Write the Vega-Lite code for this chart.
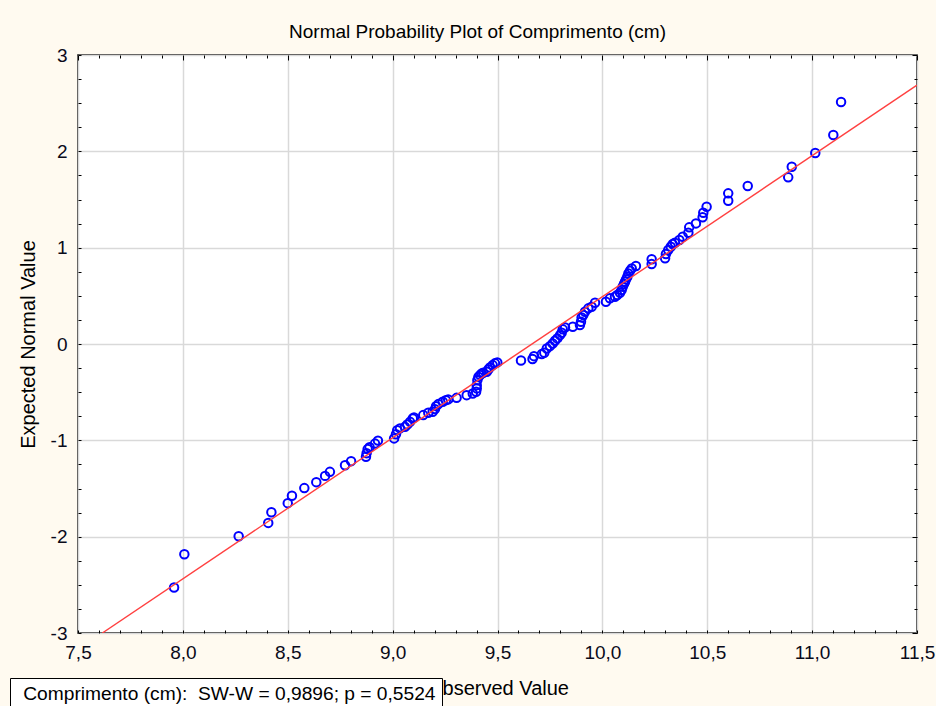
{
  "$schema": "https://vega.github.io/schema/vega-lite/v6.json",
  "width": 839,
  "height": 578,
  "autosize": {"type": "none"},
  "padding": {"left": 78, "top": 55, "right": 19, "bottom": 73},
  "background": "#fffaf0",
  "title": {
    "text": "Normal Probability Plot of Comprimento (cm)",
    "frame": "group",
    "anchor": "middle",
    "dx": -20,
    "dy": 28,
    "offset": 17,
    "baseline": "alphabetic",
    "font": "Liberation Sans Narrow, Arial Narrow, Liberation Sans",
    "fontSize": 19,
    "fontWeight": "normal",
    "color": "#000000"
  },
  "config": {
    "view": {"fill": "white", "stroke": "black", "strokeWidth": 1.5},
    "axis": {
      "domain": false,
      "labelFont": "Liberation Sans Narrow, Arial Narrow, Liberation Sans",
      "titleFont": "Liberation Sans Narrow, Arial Narrow, Liberation Sans",
      "labelFontSize": 19,
      "titleFontSize": 20,
      "titleFontWeight": "normal",
      "labelColor": "#0a0a1a",
      "titleColor": "#000000",
      "tickColor": "#000000",
      "tickWidth": 1,
      "gridColor": "#d9d9d9",
      "gridWidth": 1.5
    }
  },
  "data": {
    "values": [
      {"observed": 7.958, "expected": -2.527},
      {"observed": 8.007, "expected": -2.182},
      {"observed": 8.266, "expected": -1.995},
      {"observed": 8.407, "expected": -1.857},
      {"observed": 8.422, "expected": -1.746},
      {"observed": 8.500, "expected": -1.652},
      {"observed": 8.520, "expected": -1.576},
      {"observed": 8.579, "expected": -1.496},
      {"observed": 8.636, "expected": -1.434},
      {"observed": 8.678, "expected": -1.369},
      {"observed": 8.701, "expected": -1.327},
      {"observed": 8.773, "expected": -1.258},
      {"observed": 8.802, "expected": -1.216},
      {"observed": 8.873, "expected": -1.171},
      {"observed": 8.876, "expected": -1.133},
      {"observed": 8.881, "expected": -1.091},
      {"observed": 8.890, "expected": -1.071},
      {"observed": 8.916, "expected": -1.034},
      {"observed": 8.930, "expected": -1.003},
      {"observed": 9.007, "expected": -0.980},
      {"observed": 9.016, "expected": -0.936},
      {"observed": 9.022, "expected": -0.894},
      {"observed": 9.035, "expected": -0.876},
      {"observed": 9.059, "expected": -0.860},
      {"observed": 9.070, "expected": -0.835},
      {"observed": 9.083, "expected": -0.808},
      {"observed": 9.096, "expected": -0.773},
      {"observed": 9.102, "expected": -0.762},
      {"observed": 9.146, "expected": -0.738},
      {"observed": 9.170, "expected": -0.714},
      {"observed": 9.191, "expected": -0.704},
      {"observed": 9.202, "expected": -0.676},
      {"observed": 9.207, "expected": -0.645},
      {"observed": 9.218, "expected": -0.624},
      {"observed": 9.239, "expected": -0.600},
      {"observed": 9.254, "expected": -0.583},
      {"observed": 9.265, "expected": -0.575},
      {"observed": 9.305, "expected": -0.559},
      {"observed": 9.353, "expected": -0.531},
      {"observed": 9.382, "expected": -0.513},
      {"observed": 9.398, "expected": -0.496},
      {"observed": 9.401, "expected": -0.461},
      {"observed": 9.401, "expected": -0.427},
      {"observed": 9.404, "expected": -0.375},
      {"observed": 9.409, "expected": -0.341},
      {"observed": 9.417, "expected": -0.323},
      {"observed": 9.425, "expected": -0.305},
      {"observed": 9.432, "expected": -0.299},
      {"observed": 9.449, "expected": -0.289},
      {"observed": 9.456, "expected": -0.264},
      {"observed": 9.464, "expected": -0.243},
      {"observed": 9.477, "expected": -0.219},
      {"observed": 9.488, "expected": -0.201},
      {"observed": 9.499, "expected": -0.191},
      {"observed": 9.612, "expected": -0.172},
      {"observed": 9.667, "expected": -0.155},
      {"observed": 9.674, "expected": -0.126},
      {"observed": 9.711, "expected": -0.105},
      {"observed": 9.723, "expected": -0.091},
      {"observed": 9.735, "expected": -0.046},
      {"observed": 9.750, "expected": -0.022},
      {"observed": 9.763, "expected": 0.006},
      {"observed": 9.774, "expected": 0.033},
      {"observed": 9.785, "expected": 0.058},
      {"observed": 9.798, "expected": 0.092},
      {"observed": 9.806, "expected": 0.116},
      {"observed": 9.811, "expected": 0.152},
      {"observed": 9.822, "expected": 0.172},
      {"observed": 9.859, "expected": 0.179},
      {"observed": 9.893, "expected": 0.196},
      {"observed": 9.898, "expected": 0.231},
      {"observed": 9.901, "expected": 0.276},
      {"observed": 9.909, "expected": 0.300},
      {"observed": 9.917, "expected": 0.334},
      {"observed": 9.933, "expected": 0.370},
      {"observed": 9.949, "expected": 0.386},
      {"observed": 9.965, "expected": 0.428},
      {"observed": 10.017, "expected": 0.438},
      {"observed": 10.036, "expected": 0.474},
      {"observed": 10.060, "expected": 0.490},
      {"observed": 10.071, "expected": 0.508},
      {"observed": 10.084, "expected": 0.532},
      {"observed": 10.092, "expected": 0.560},
      {"observed": 10.097, "expected": 0.594},
      {"observed": 10.103, "expected": 0.622},
      {"observed": 10.108, "expected": 0.646},
      {"observed": 10.113, "expected": 0.671},
      {"observed": 10.119, "expected": 0.698},
      {"observed": 10.124, "expected": 0.733},
      {"observed": 10.132, "expected": 0.760},
      {"observed": 10.140, "expected": 0.785},
      {"observed": 10.160, "expected": 0.809},
      {"observed": 10.235, "expected": 0.830},
      {"observed": 10.235, "expected": 0.879},
      {"observed": 10.299, "expected": 0.889},
      {"observed": 10.303, "expected": 0.934},
      {"observed": 10.314, "expected": 0.975},
      {"observed": 10.326, "expected": 1.009},
      {"observed": 10.335, "expected": 1.037},
      {"observed": 10.346, "expected": 1.051},
      {"observed": 10.367, "expected": 1.079},
      {"observed": 10.383, "expected": 1.113},
      {"observed": 10.410, "expected": 1.155},
      {"observed": 10.414, "expected": 1.211},
      {"observed": 10.446, "expected": 1.252},
      {"observed": 10.478, "expected": 1.315},
      {"observed": 10.481, "expected": 1.362},
      {"observed": 10.497, "expected": 1.425},
      {"observed": 10.600, "expected": 1.487},
      {"observed": 10.600, "expected": 1.564},
      {"observed": 10.693, "expected": 1.640},
      {"observed": 10.886, "expected": 1.730},
      {"observed": 10.903, "expected": 1.840},
      {"observed": 11.015, "expected": 1.982},
      {"observed": 11.101, "expected": 2.169},
      {"observed": 11.138, "expected": 2.512}
    ]
  },
  "layer": [
    {
      "mark": {"type": "point", "shape": "circle", "filled": false, "strokeWidth": 2, "size": 72, "opacity": 1},
      "encoding": {
        "x": {
          "field": "observed",
          "type": "quantitative",
          "scale": {"domain": [7.5, 11.5], "nice": false, "zero": false},
          "axis": {
            "orient": "bottom",
            "title": "Observed Value",
            "titlePadding": 16,
            "values": [7.5, 7.6, 7.7, 7.8, 7.9, 8.0, 8.1, 8.2, 8.3, 8.4, 8.5, 8.6, 8.7, 8.8, 8.9, 9.0, 9.1, 9.2, 9.3, 9.4, 9.5, 9.6, 9.7, 9.8, 9.9, 10.0, 10.1, 10.2, 10.3, 10.4, 10.5, 10.6, 10.7, 10.8, 10.9, 11.0, 11.1, 11.2, 11.3, 11.4, 11.5],
            "labelExpr": "abs(datum.value * 2 - round(datum.value * 2)) < 0.01 ? replace(format(datum.value, '.1f'), '.', ',') : ''",
            "labelFlush": false,
            "labelOverlap": false,
            "labelPadding": 13,
            "tickSize": -3,
            "grid": true,
            "gridOpacity": {"condition": {"test": "abs(datum.value * 2 - round(datum.value * 2)) < 0.01", "value": 1}, "value": 0}
          }
        },
        "y": {
          "field": "expected",
          "type": "quantitative",
          "scale": {"domain": [-3, 3], "nice": false, "zero": false},
          "axis": {
            "orient": "left",
            "title": "Expected Normal Value",
            "titlePadding": 12,
            "values": [-3, -2.75, -2.5, -2.25, -2, -1.75, -1.5, -1.25, -1, -0.75, -0.5, -0.25, 0, 0.25, 0.5, 0.75, 1, 1.25, 1.5, 1.75, 2, 2.25, 2.5, 2.75, 3],
            "labelExpr": "abs(datum.value - round(datum.value)) < 0.01 ? (datum.value < -0.01 ? '-' : '') + abs(round(datum.value)) : ''",
            "labelFlush": false,
            "labelOverlap": false,
            "labelPadding": 14,
            "tickSize": -3,
            "grid": true,
            "gridOpacity": {"condition": {"test": "abs(datum.value - round(datum.value)) < 0.01", "value": 1}, "value": 0}
          }
        },
        "color": {
          "datum": "Comprimento (cm):\u00a0 SW-W = 0,9896; p = 0,5524",
          "type": "nominal",
          "scale": {"range": ["#0000ff"]},
          "legend": {
            "title": null,
            "orient": "none",
            "legendX": -68,
            "legendY": 623,
            "fillColor": "white",
            "strokeColor": "black",
            "padding": 6,
            "symbolSize": 0,
            "symbolOpacity": 0,
            "symbolStrokeWidth": 0,
            "labelOffset": -12,
            "labelLimit": 0,
            "labelFont": "Liberation Sans Narrow, Arial Narrow, Liberation Sans",
            "labelFontSize": 19.2,
            "labelColor": "#000000"
          }
        }
      }
    },
    {
      "data": {
        "values": [
          {"observed": 7.616, "expected": -3.0},
          {"observed": 11.5, "expected": 2.687}
        ]
      },
      "mark": {"type": "line", "color": "#ff4040", "strokeWidth": 1.4, "clip": true},
      "encoding": {
        "x": {
          "field": "observed",
          "type": "quantitative",
          "scale": {"domain": [7.5, 11.5], "nice": false, "zero": false},
          "axis": {
            "orient": "top",
            "title": null,
            "labels": false,
            "grid": false,
            "values": [7.5, 7.6, 7.7, 7.8, 7.9, 8.0, 8.1, 8.2, 8.3, 8.4, 8.5, 8.6, 8.7, 8.8, 8.9, 9.0, 9.1, 9.2, 9.3, 9.4, 9.5, 9.6, 9.7, 9.8, 9.9, 10.0, 10.1, 10.2, 10.3, 10.4, 10.5, 10.6, 10.7, 10.8, 10.9, 11.0, 11.1, 11.2, 11.3, 11.4, 11.5],
            "tickSize": {"condition": {"test": "abs(datum.value * 2 - round(datum.value * 2)) < 0.01", "value": -5}, "value": -3}
          }
        },
        "y": {
          "field": "expected",
          "type": "quantitative",
          "scale": {"domain": [-3, 3], "nice": false, "zero": false},
          "axis": {
            "orient": "right",
            "title": null,
            "labels": false,
            "grid": false,
            "values": [-3, -2.75, -2.5, -2.25, -2, -1.75, -1.5, -1.25, -1, -0.75, -0.5, -0.25, 0, 0.25, 0.5, 0.75, 1, 1.25, 1.5, 1.75, 2, 2.25, 2.5, 2.75, 3],
            "tickSize": {"condition": {"test": "abs(datum.value - round(datum.value)) < 0.01", "value": -5}, "value": -3}
          }
        }
      }
    }
  ],
  "resolve": {"axis": {"x": "independent", "y": "independent"}}
}
